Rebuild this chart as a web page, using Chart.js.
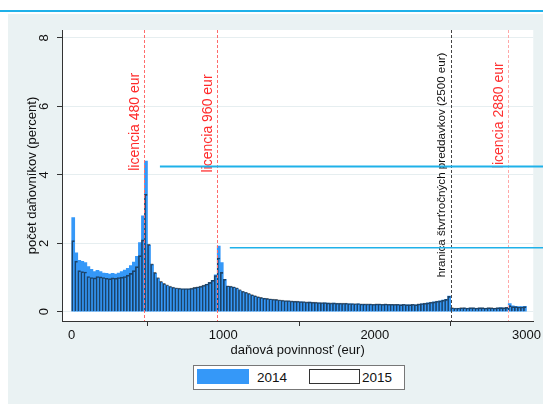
<!DOCTYPE html>
<html>
<head>
<meta charset="utf-8">
<script src="https://cdn.jsdelivr.net/npm/chart.js@4.4.0/dist/chart.umd.min.js"></script>
<style>
  body { margin: 0; background: #fff; width: 543px; height: 404px; overflow: hidden; position: relative;
         font-family: "Liberation Sans", Arial, sans-serif; }
  #topline { position: absolute; left: 0; top: 10px; width: 543px; height: 2px; background: #1fb1e9; }
  #frame { position: absolute; left: 8px; top: 14px; width: 535px; height: 390px; background: #eaf2f3; }
  #legend { position: absolute; left: 185px; top: 351px; width: 210px; height: 23px; background: #fff;
            border: 1px solid #777; font-size: 13.5px; color: #111; }
  #legend .sw { position: absolute; top: 3px; height: 15px; }
  #legend .lb { position: absolute; top: 4px; }
</style>
</head>
<body>
<div id="topline"></div>
<div id="frame">
  <canvas id="chart" width="535" height="390"></canvas>
  <div id="legend">
    <div class="sw" style="left:3px;width:52px;background:#3598f8;"></div>
    <div class="lb" style="left:63px;">2014</div>
    <div class="sw" style="left:115px;width:49px;height:13px;background:#fff;border:1px solid #333;"></div>
    <div class="lb" style="left:168px;">2015</div>
  </div>
</div>
<script>
// histogram bins of 20 eur, 0 .. 3000
const binWidth = 20;
const bins = Array.from({length: 150}, (_, i) => i * binWidth + binWidth / 2);

const share2014 = [
  2.75, 1.72, 1.50, 1.47, 1.44, 1.32, 1.24, 1.17, 1.21, 1.17, 1.13, 1.12, 1.10, 1.12, 1.10, 1.13, 1.17, 1.22, 1.27, 1.35, 1.45, 1.62, 2.02, 2.80, 4.40,
  1.95, 1.38, 1.12, 0.97, 0.86, 0.80, 0.76, 0.72, 0.70, 0.68, 0.67, 0.66, 0.66, 0.66, 0.67, 0.69, 0.71, 0.73, 0.76, 0.80, 0.85, 0.92, 1.08, 1.92, 1.44,
  0.95, 0.74, 0.73, 0.71, 0.68, 0.62, 0.58, 0.55, 0.51, 0.48, 0.45, 0.42, 0.40, 0.39, 0.37, 0.36, 0.35, 0.34, 0.33, 0.32, 0.31, 0.31, 0.30, 0.30, 0.29,
  0.29, 0.28, 0.27, 0.28, 0.27, 0.26, 0.26, 0.25, 0.26, 0.25, 0.24, 0.25, 0.24, 0.24, 0.23, 0.24, 0.23, 0.23, 0.22, 0.23, 0.22, 0.22, 0.21, 0.22, 0.21,
  0.22, 0.22, 0.21, 0.22, 0.21, 0.21, 0.20, 0.21, 0.20, 0.21, 0.20, 0.20, 0.21, 0.20, 0.22, 0.23, 0.24, 0.26, 0.27, 0.29, 0.30, 0.32, 0.34, 0.36, 0.46,
  0.10, 0.09, 0.10, 0.10, 0.11, 0.10, 0.11, 0.11, 0.10, 0.11, 0.11, 0.10, 0.11, 0.10, 0.10, 0.11, 0.12, 0.11, 0.12, 0.24, 0.17, 0.16, 0.15, 0.15, 0.16
];
const share2015 = [
  2.08, 1.48, 1.20, 1.17, 1.16, 1.03, 1.00, 0.99, 1.03, 1.02, 1.00, 0.98, 0.97, 0.99, 0.98, 1.00, 1.01, 1.03, 1.07, 1.12, 1.20, 1.32, 1.64, 2.10, 3.43,
  1.97, 1.40, 1.15, 1.00, 0.89, 0.83, 0.79, 0.75, 0.72, 0.70, 0.69, 0.68, 0.68, 0.68, 0.69, 0.71, 0.73, 0.75, 0.78, 0.81, 0.86, 0.92, 1.06, 1.57, 1.15,
  0.95, 0.76, 0.75, 0.73, 0.70, 0.65, 0.60, 0.57, 0.54, 0.50, 0.47, 0.44, 0.42, 0.40, 0.39, 0.38, 0.37, 0.36, 0.35, 0.34, 0.33, 0.33, 0.32, 0.31, 0.31,
  0.30, 0.30, 0.29, 0.29, 0.28, 0.28, 0.27, 0.27, 0.27, 0.26, 0.26, 0.26, 0.25, 0.25, 0.25, 0.25, 0.24, 0.24, 0.24, 0.24, 0.23, 0.23, 0.23, 0.23, 0.22,
  0.23, 0.23, 0.22, 0.23, 0.22, 0.22, 0.22, 0.22, 0.21, 0.22, 0.21, 0.21, 0.22, 0.21, 0.23, 0.24, 0.25, 0.26, 0.28, 0.29, 0.31, 0.32, 0.34, 0.36, 0.45,
  0.12, 0.11, 0.11, 0.12, 0.12, 0.11, 0.12, 0.12, 0.11, 0.12, 0.12, 0.11, 0.12, 0.12, 0.11, 0.12, 0.12, 0.12, 0.13, 0.18, 0.15, 0.15, 0.14, 0.14, 0.15
];

const xTicks = [0, 1000, 2000, 3000];
const yTicks = [0, 2, 4, 6, 8];

// vertical reference lines with their labels (x in eur, label centre in percent)
const refLines = [
  {x: 480,  text: 'licencia 480 eur',  labelY: 5.55, color: '#ff6b6b', textColor: '#ff2a2a', size: 14},
  {x: 960,  text: 'licencia 960 eur',  labelY: 5.50, color: '#ff6b6b', textColor: '#ff2a2a', size: 14},
  {x: 2500, text: 'hranica štvrťročných preddavkov (2500 eur)', labelY: 4.29, color: '#444', textColor: '#111', size: 11.6},
  {x: 2880, text: 'licencia 2880 eur', labelY: 5.74, color: '#ffa8a8', textColor: '#ff3030', size: 14}
];
// the two blue pointer lines at the peaks
const pointers = [
  {x: 582, y: 4.24, width: 2},
  {x: 1043, y: 1.87, width: 1.5}
];

const font = '"Liberation Sans", Arial, sans-serif';

const extras = {
  id: 'extras',
  beforeDraw(chart) {
    const {ctx, chartArea: a} = chart;
    ctx.save();
    ctx.fillStyle = '#fff';
    ctx.fillRect(a.left, a.top, a.right - a.left, a.bottom - a.top);
    ctx.restore();
  },
  afterDatasetsDraw(chart) {
    const {ctx, chartArea: a} = chart;
    const xs = chart.scales.x, ys = chart.scales.y;
    ctx.save();
    refLines.forEach(r => {
      const px = Math.round(xs.getPixelForValue(r.x)) + 0.5;
      ctx.strokeStyle = r.color;
      ctx.lineWidth = 1;
      ctx.setLineDash([3, 2]);
      ctx.beginPath();
      ctx.moveTo(px, a.top);
      ctx.lineTo(px, a.bottom);
      ctx.stroke();
      ctx.setLineDash([]);
      ctx.save();
      ctx.translate(px - 9.5, ys.getPixelForValue(r.labelY));
      ctx.rotate(-Math.PI / 2);
      ctx.fillStyle = r.textColor;
      ctx.font = r.size + 'px ' + font;
      ctx.textAlign = 'center';
      ctx.textBaseline = 'middle';
      ctx.fillText(r.text, 0, 0);
      ctx.restore();
    });
    ctx.restore();
  },
  afterDraw(chart) {
    const {ctx} = chart;
    const xs = chart.scales.x, ys = chart.scales.y;
    ctx.save();
    // rotated y tick labels
    ctx.fillStyle = '#111';
    ctx.font = '13px ' + font;
    ctx.textAlign = 'center';
    ctx.textBaseline = 'middle';
    yTicks.forEach(v => {
      ctx.save();
      ctx.translate(36, ys.getPixelForValue(v));
      ctx.rotate(-Math.PI / 2);
      ctx.fillText(String(v), 0, 0);
      ctx.restore();
    });
    ctx.strokeStyle = '#1fb1e9';
    pointers.forEach(p => {
      const py = ys.getPixelForValue(p.y);
      ctx.lineWidth = p.width;
      ctx.beginPath();
      ctx.moveTo(xs.getPixelForValue(p.x), py);
      ctx.lineTo(chart.width, py);
      ctx.stroke();
    });
    ctx.restore();
  }
};

new Chart(document.getElementById('chart'), {
  type: 'bar',
  data: {
    datasets: [
      {
        label: '2014',
        data: bins.map((x, i) => ({x: x, y: share2014[i]})),
        backgroundColor: '#3598f8',
        borderWidth: 0,
        grouped: false,
        barPercentage: 1,
        categoryPercentage: 1,
        order: 2
      },
      {
        label: '2015',
        data: bins.map((x, i) => ({x: x, y: share2015[i]})),
        backgroundColor: 'rgba(0,0,0,0)',
        borderColor: 'rgba(10,10,10,0.6)',
        borderWidth: {left: 1, top: 1, right: 0, bottom: 0},
        borderSkipped: false,
        grouped: false,
        barPercentage: 1,
        categoryPercentage: 1,
        order: 1
      }
    ]
  },
  options: {
    responsive: false,
    animation: false,
    layout: {padding: {left: 0, right: 8, top: 16, bottom: 45}},
    plugins: {legend: {display: false}, tooltip: {enabled: false}},
    scales: {
      x: {
        type: 'linear',
        min: -64,
        max: 3045,
        offset: false,
        afterBuildTicks: s => { s.ticks = xTicks.map(v => ({value: v})); },
        afterFit: s => { s.height = 38; },
        grid: {drawOnChartArea: false, drawTicks: true, tickLength: 5, tickColor: '#333'},
        border: {display: true, color: '#333', width: 1},
        ticks: {font: {family: font, size: 13}, color: '#111', padding: 2, maxRotation: 0, autoSkip: false,
                callback: v => String(v)},
        title: {display: true, text: 'daňová povinnosť (eur)', font: {family: font, size: 13}, color: '#111',
                padding: {top: 0, bottom: 1}}
      },
      y: {
        min: -0.27,
        max: 8.23,
        afterBuildTicks: s => { s.ticks = yTicks.map(v => ({value: v})); },
        afterFit: s => { s.width = 54; },
        grid: {color: '#e6eef0', tickColor: '#333', tickLength: 5, drawTicks: true},
        border: {display: true, color: '#333', width: 1},
        ticks: {display: false},
        title: {display: true, text: 'počet daňovníkov (percent)', font: {family: font, size: 13}, color: '#111',
                padding: {top: 17, bottom: 0}}
      }
    }
  },
  plugins: [extras]
});
</script>
</body>
</html>
